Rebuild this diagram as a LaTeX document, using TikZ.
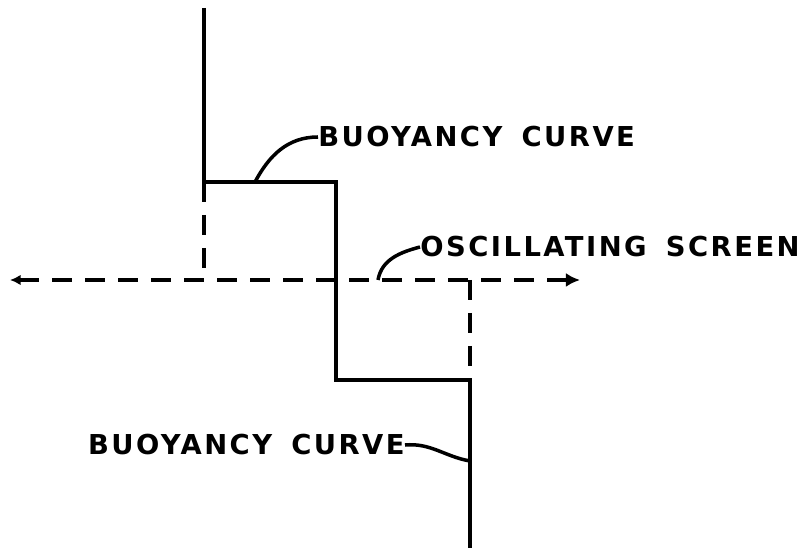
\documentclass[tikz,border=0pt]{standalone}
\usepackage{fontspec}
\newfontfamily\lblfont{DejaVu Sans}[LetterSpace=9, WordSpace=1.6]
\usetikzlibrary{arrows.meta}
\tikzset{
  curve/.style={line width=2.2pt},
  screen/.style={line width=2.2pt, dash pattern=on 0.4cm off 0.26cm},
  leader/.style={line width=2pt},
  lbl/.style={font=\lblfont\fontsize{15.6}{18}\selectfont\bfseries, inner sep=0pt}
}
\begin{document}
\begin{tikzpicture}
\useasboundingbox (0,0) rectangle (16.24,-11.18);

% buoyancy curve corners
\coordinate (top) at (4.08,-0.16);
\coordinate (c1) at (4.08,-3.64);
\coordinate (c2) at (6.72,-3.64);
\coordinate (c3) at (6.72,-7.6);
\coordinate (c4) at (9.4,-7.6);
\coordinate (bot) at (9.4,-10.96);

% screen
\coordinate (s1) at (4.08,-5.6);
\coordinate (s2) at (9.4,-5.6);
\coordinate (west) at (0.2,-5.6);
\coordinate (east) at (11.6,-5.6);

\draw[curve] (top) -- (c1) -- (c2) -- (c3) -- (c4) -- (bot);
\draw[screen] (c1) -- (s1);
\draw[screen] (s2) -- (c4);
\draw[screen, {Latex[length=6pt,width=6pt]}-{Latex[length=8pt,width=8pt]}] (west) -- (east);

% labels
\node[lbl, anchor=west] (upper) at (6.36,-2.74) {BUOYANCY CURVE};
\node[lbl, anchor=west] (osc) at (8.4,-4.94) {OSCILLATING SCREEN};
\node[lbl, anchor=east] (lower) at (8.1,-8.9) {BUOYANCY CURVE};

\coordinate (p1) at (5.1,-3.64);
\coordinate (p2) at (7.56,-5.6);
\coordinate (p3) at (9.4,-9.22);

\draw[leader] (p1) to[out=62, in=180] (upper.west);
\draw[leader] (p2) to[out=80, in=195] (osc.west);
\draw[leader] (lower.east) to[out=5, in=170] (p3);
\end{tikzpicture}
\end{document}
